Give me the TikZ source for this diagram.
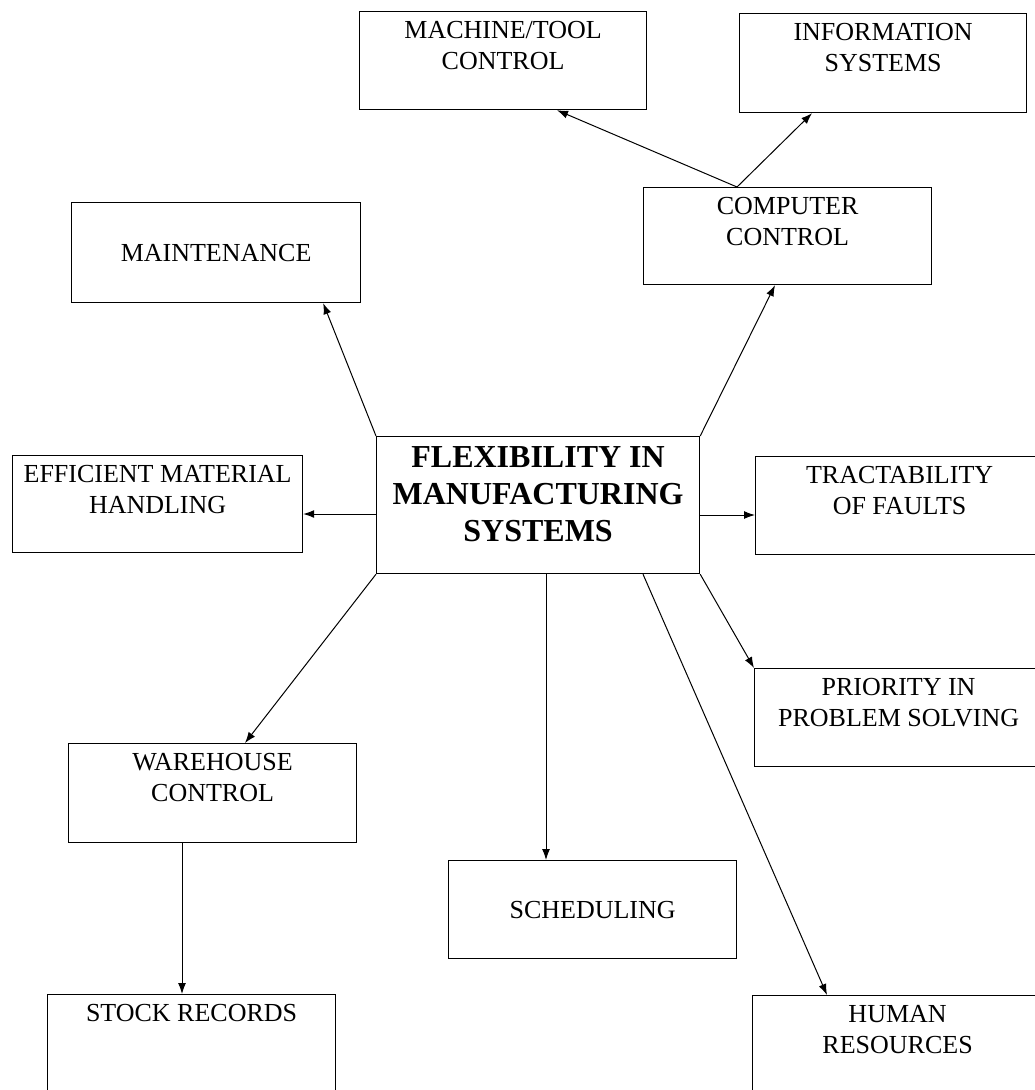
\documentclass[tikz,border=0pt]{standalone}
\usepackage{fontspec}
\setmainfont{Liberation Serif}
\usetikzlibrary{arrows.meta,calc}
\newcommand{\tbx}[3]{\parbox[c][#2][t]{#1}{\centering\rule{0pt}{27pt}#3}}
\newcommand{\cbx}[3]{\parbox[c][#2][c]{#1}{\centering #3}}
\tikzset{
  bx/.style={draw, line width=1.2pt, inner sep=0pt, anchor=north west, font=\fontsize{26}{31}\selectfont},
  hub/.style={draw, line width=1.2pt, inner sep=0pt, anchor=north west, font=\bfseries\fontsize{32}{37}\selectfont},
  arr/.style={-{Latex[length=11pt,width=8pt]}, line width=1pt}
}
\begin{document}
\begin{tikzpicture}[x=1pt,y=-1pt]
\useasboundingbox (0,0) rectangle (1035,1090);
\clip (0,0) rectangle (1035,1090);
\fill[white] (0,0) rectangle (1035,1090);
\node[bx] (mach) at (359,11) {\tbx{287pt}{98pt}{MACHINE/TOOL\\CONTROL}};
\node[bx] (info) at (739,13) {\tbx{287pt}{99pt}{INFORMATION\\SYSTEMS}};
\node[bx] (comp) at (643,187) {\tbx{288pt}{97pt}{COMPUTER\\CONTROL}};
\node[bx] (maint) at (71,202) {\cbx{289pt}{100pt}{MAINTENANCE}};
\node[hub] (flex) at (376,436) {\parbox[c][137pt][t]{323pt}{\centering\rule{0pt}{31pt}FLEXIBILITY IN\\MANUFACTURING\\SYSTEMS}};
\node[bx] (eff) at (12,455) {\tbx{290pt}{97pt}{EFFICIENT MATERIAL\\HANDLING}};
\node[bx] (trac) at (755,456) {\tbx{288pt}{98pt}{TRACTABILITY\\OF FAULTS}};
\node[bx] (prio) at (754,668) {\tbx{288pt}{98pt}{PRIORITY IN\\PROBLEM SOLVING}};
\node[bx] (ware) at (68,743) {\tbx{288pt}{99pt}{WAREHOUSE\\CONTROL}};
\node[bx] (sched) at (448,860) {\cbx{288pt}{98pt}{SCHEDULING}};
\node[bx] (stock) at (47,994) {\tbx{288pt}{110pt}{STOCK RECORDS}};
\node[bx] (hr) at (752,995) {\tbx{290pt}{110pt}{HUMAN\\RESOURCES}};
% connectors
\draw[arr] (flex.north west) -- ($(maint.south east)+(-38,0)$);
\draw[arr] (flex.north east) -- ($(comp.south west)+(132,0)$);
\coordinate (ct) at ($(comp.north west)+(94,0)$);
\draw[arr] (ct) -- ($(mach.south west)+(198,0)$);
\draw[arr] (ct) -- ($(info.south west)+(73,0)$);
\coordinate (fl) at ($(flex.north west)+(0,78)$);
\draw[arr] (fl) -- (fl -| eff.east);
\coordinate (fr) at ($(flex.north east)+(0,79)$);
\draw[arr] (fr) -- (fr -| trac.west);
\draw[arr] (flex.south west) -- ($(ware.north west)+(177,0)$);
\coordinate (fb) at ($(flex.south west)+(170,0)$);
\draw[arr] (fb) -- (fb |- sched.north);
\draw[arr] ($(flex.south west)+(267,0)$) -- ($(hr.north west)+(75,0)$);
\draw[arr] (flex.south east) -- (prio.north west);
\coordinate (wb) at ($(ware.south west)+(114,0)$);
\draw[arr] (wb) -- (wb |- stock.north);
\end{tikzpicture}
\end{document}
